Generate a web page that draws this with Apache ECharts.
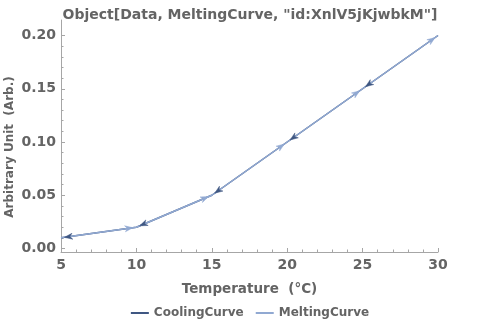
<!DOCTYPE html>
<html>
<head>
<meta charset="utf-8">
<script src="https://cdn.jsdelivr.net/npm/echarts@6/dist/echarts.min.js"></script>
<style>html,body{margin:0;padding:0;background:#fff}#c{width:500px;height:331px}</style>
</head>
<body>
<div id="c"></div>
<script>
// ---- data ----
const titleText = 'Object[Data, MeltingCurve, "id:XnlV5jKjwbkM"]';
const seriesNames = ['CoolingCurve', 'MeltingCurve'];
const meltingTemps = [5, 10, 15, 20, 25, 30];
const meltingValues = [0.010, 0.020, 0.050, 0.100, 0.150, 0.200];
const coolingTemps = [30, 25, 20, 15, 10, 5];
const coolingValues = [0.200, 0.150, 0.100, 0.050, 0.020, 0.010];
const xTicks = [5, 10, 15, 20, 25, 30];
const yTicks = [0.00, 0.05, 0.10, 0.15, 0.20];

const coolColor = '#3f5782';
const meltColor = '#91a9d2';
const textColor = '#646464';
const axisColor = '#a6a6a6';
const font = 'DejaVu Sans';

function pts(xs, ys) { return xs.map((x, i) => [x, ys[i]]); }
function segs(xs, ys) {
  const out = [];
  for (let i = 1; i < xs.length; i++) out.push([xs[i - 1], ys[i - 1], xs[i], ys[i]]);
  return out;
}
function arrowRender(color) {
  return function (params, api) {
    const p0 = api.coord([api.value(0), api.value(1)]);
    const p1 = api.coord([api.value(2), api.value(3)]);
    let dx = p1[0] - p0[0], dy = p1[1] - p0[1];
    const len = Math.sqrt(dx * dx + dy * dy) || 1;
    dx /= len; dy /= len;
    const nx = -dy, ny = dx;
    const back = 3.5, L = 8, W = 3, notch = 5.5;
    const tip = [p1[0] - dx * back, p1[1] - dy * back];
    const a = [tip[0] - dx * L + nx * W, tip[1] - dy * L + ny * W];
    const m = [tip[0] - dx * notch, tip[1] - dy * notch];
    const b = [tip[0] - dx * L - nx * W, tip[1] - dy * L - ny * W];
    return {
      type: 'polygon',
      shape: { points: [tip, a, m, b] },
      style: { fill: color, stroke: color, lineWidth: 0.5 }
    };
  };
}

const chart = echarts.init(document.getElementById('c'), null, { renderer: 'canvas' });
const yMin = yTicks[0], yMax = yTicks[yTicks.length - 1];
const xMin = xTicks[0], xMax = xTicks[xTicks.length - 1];

chart.setOption({
  animation: false,
  backgroundColor: '#ffffff',
  textStyle: { fontFamily: font },
  title: {
    text: titleText,
    left: 'center',
    top: 3,
    textStyle: { fontFamily: font, fontWeight: 'bold', fontSize: 14, color: textColor }
  },
  legend: {
    data: seriesNames.map((n, i) => ({ name: n, icon: 'rect', itemStyle: { color: i === 0 ? coolColor : meltColor } })),
    bottom: 7,
    left: 'center',
    itemWidth: 18,
    itemHeight: 2,
    itemGap: 12,
    textStyle: { fontFamily: font, fontWeight: 'bold', fontSize: 12, color: textColor }
  },
  grid: [
    { left: 61, right: 62, top: 35.5, bottom: 82.5, containLabel: false, outerBoundsMode: 'none' },
    { left: 61, right: 62, top: 20, bottom: 79, containLabel: false, outerBoundsMode: 'none' }
  ],
  xAxis: [
    { gridIndex: 0, type: 'value', min: xMin, max: xMax, show: false },
    {
      gridIndex: 1, type: 'value', min: xMin, max: xMax, interval: 5,
      name: 'Temperature  (\u00B0C)', nameLocation: 'middle', nameGap: 30,
      nameTextStyle: { fontFamily: font, fontWeight: 'bold', fontSize: 13.5, color: textColor },
      axisLine: { show: true, lineStyle: { color: axisColor, width: 1 } },
      axisTick: { show: true, inside: true, length: 4, lineStyle: { color: axisColor } },
      minorTick: { show: true, splitNumber: 5, length: 2.5, lineStyle: { color: axisColor } },
      splitLine: { show: false },
      axisLabel: { margin: 6, fontFamily: font, fontWeight: 'bold', fontSize: 14, color: textColor }
    }
  ],
  yAxis: [
    {
      gridIndex: 0, type: 'value', min: yMin, max: yMax, interval: 0.05,
      axisLine: { show: false },
      axisTick: { show: true, inside: true, length: 4, lineStyle: { color: axisColor } },
      minorTick: { show: true, splitNumber: 5, length: 2.5, lineStyle: { color: axisColor } },
      splitLine: { show: false },
      axisLabel: { margin: 5, fontFamily: font, fontWeight: 'bold', fontSize: 14, color: textColor,
        formatter: v => v.toFixed(2) }
    },
    {
      gridIndex: 1, type: 'value', min: 0, max: 1,
      name: 'Arbitrary Unit  (Arb.)', nameLocation: 'middle', nameGap: 45,
      nameTextStyle: { fontFamily: font, fontWeight: 'bold', fontSize: 12, color: textColor, padding: [0, 22, 0, 0] },
      axisLine: { show: true, lineStyle: { color: axisColor, width: 1 } },
      axisTick: { show: false }, axisLabel: { show: false }, splitLine: { show: false }
    }
  ],
  series: [
    {
      name: seriesNames[0], type: 'line', xAxisIndex: 0, yAxisIndex: 0,
      data: pts(coolingTemps, coolingValues), showSymbol: false, symbol: 'none',
      lineStyle: { color: coolColor, width: 1.5 }, itemStyle: { color: coolColor }, z: 2
    },
    {
      name: seriesNames[1], type: 'line', xAxisIndex: 0, yAxisIndex: 0,
      data: pts(meltingTemps, meltingValues), showSymbol: false, symbol: 'none',
      lineStyle: { color: meltColor, width: 1.5 }, itemStyle: { color: meltColor }, z: 3
    },
    {
      name: 'coolArrows', type: 'custom', xAxisIndex: 0, yAxisIndex: 0,
      data: segs(coolingTemps, coolingValues), renderItem: arrowRender(coolColor),
      encode: { x: [0, 2], y: [1, 3] }, clip: false, silent: true, z: 4
    },
    {
      name: 'meltArrows', type: 'custom', xAxisIndex: 0, yAxisIndex: 0,
      data: segs(meltingTemps, meltingValues), renderItem: arrowRender(meltColor),
      encode: { x: [0, 2], y: [1, 3] }, clip: false, silent: true, z: 4
    }
  ]
});
</script>
</body>
</html>
